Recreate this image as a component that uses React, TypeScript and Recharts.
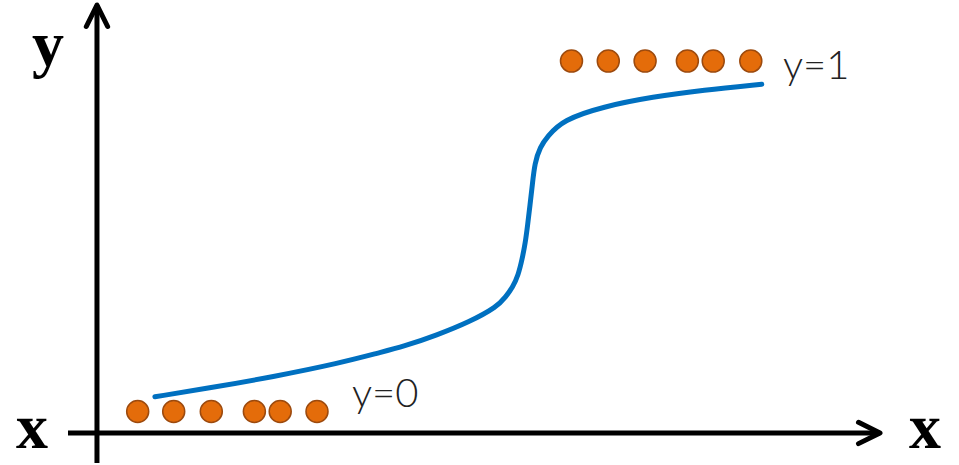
import React from 'react';
import {
  ComposedChart,
  Line,
  Scatter,
  XAxis,
  YAxis,
  ReferenceLine
} from 'recharts';

// sample points for the logistic-style curve
const CURVE_X = [
  0.74, 1.41, 2.25, 3.1, 3.61, 3.91, 4.34, 4.76, 5.11, 5.22, 5.31, 5.38, 5.43,
  5.47, 5.5, 5.53, 5.56, 5.59, 5.66, 5.75, 5.95, 6.46, 7.1, 7.74, 8.49
];
const CURVE_Y = [
  0.042, 0.066, 0.099, 0.138, 0.168, 0.185, 0.218, 0.256, 0.299, 0.327, 0.355,
  0.389, 0.435, 0.481, 0.532, 0.589, 0.646, 0.709, 0.755, 0.784, 0.832, 0.87,
  0.898, 0.917, 0.934
];

// observations in each class
const CLASS0_X = [0.52, 0.98, 1.46, 2.01, 2.34, 2.81];
const CLASS1_X = [6.06, 6.53, 7.0, 7.54, 7.87, 8.35];

const X_DOMAIN: [number, number] = [-0.37, 10];
const Y_DOMAIN: [number, number] = [-0.147, 1.16];
const AXIS_Y = -0.0613;

const curveData = CURVE_X.map((x, i) => ({ x, y: CURVE_Y[i] }));
const class0 = CLASS0_X.map((x) => ({ x, y: 0 }));
const class1 = CLASS1_X.map((x) => ({ x, y: 1 }));

const WIDTH = 959;
const HEIGHT = 465;

const renderDot = (props: any) => (
  <circle
    cx={props.cx}
    cy={props.cy}
    r={11}
    fill="#E46C0A"
    stroke="#9C4A0E"
    strokeWidth={1.5}
  />
);

const AxisArrow = (props: any) => {
  const { x1, y1, x2, y2 } = props;
  const ang = Math.atan2(y2 - y1, x2 - x1);
  const len = 24;
  const spread = 0.46;
  const a1 = `${x2 - len * Math.cos(ang - spread)},${y2 - len * Math.sin(ang - spread)}`;
  const a2 = `${x2 - len * Math.cos(ang + spread)},${y2 - len * Math.sin(ang + spread)}`;
  return (
    <g>
      <line x1={x1} y1={y1} x2={x2} y2={y2} stroke="#000" strokeWidth={5} />
      <polyline
        points={`${a1} ${x2},${y2} ${a2}`}
        fill="none"
        stroke="#000"
        strokeWidth={5}
        strokeLinecap="round"
        strokeLinejoin="round"
      />
    </g>
  );
};

const serif = { fontFamily: '"Liberation Serif", serif', fontWeight: 700, fontSize: 64 };
const light = { fontFamily: 'Lato, sans-serif', fontWeight: 300, fontSize: 40, fill: '#222' };

export default function App() {
  return (
    <div style={{ position: 'absolute', left: 0, top: 0, width: WIDTH, height: HEIGHT, background: '#fff' }}>
      <ComposedChart
        width={WIDTH}
        height={HEIGHT}
        margin={{ top: 5, right: 79, bottom: 2, left: 68 }}
      >
        <XAxis type="number" dataKey="x" domain={X_DOMAIN} hide allowDataOverflow />
        <YAxis type="number" domain={Y_DOMAIN} hide allowDataOverflow />
        <ReferenceLine
          segment={[{ x: X_DOMAIN[0], y: AXIS_Y }, { x: X_DOMAIN[1], y: AXIS_Y }]}
          shape={AxisArrow}
          ifOverflow="visible"
        />
        <ReferenceLine
          segment={[{ x: 0, y: Y_DOMAIN[0] }, { x: 0, y: Y_DOMAIN[1] }]}
          shape={AxisArrow}
          ifOverflow="visible"
        />
        <Line
          data={curveData}
          dataKey="y"
          type="basis"
          stroke="#0070C0"
          strokeWidth={5}
          strokeLinecap="round"
          dot={false}
          isAnimationActive={false}
        />
        <Scatter data={class0} dataKey="y" shape={renderDot} isAnimationActive={false} />
        <Scatter data={class1} dataKey="y" shape={renderDot} isAnimationActive={false} />
      </ComposedChart>
      <svg
        width={WIDTH}
        height={HEIGHT}
        style={{ position: 'absolute', left: 0, top: 0, pointerEvents: 'none' }}
      >
        <text x={48} y={65} textAnchor="middle" style={serif}>y</text>
        <text x={32} y={448} textAnchor="middle" style={serif}>x</text>
        <text x={925} y={448} textAnchor="middle" style={serif}>x</text>
        <text x={783} y={79} style={light}>y=1</text>
        <text x={352} y={407} style={light}>y=0</text>
      </svg>
    </div>
  );
}
